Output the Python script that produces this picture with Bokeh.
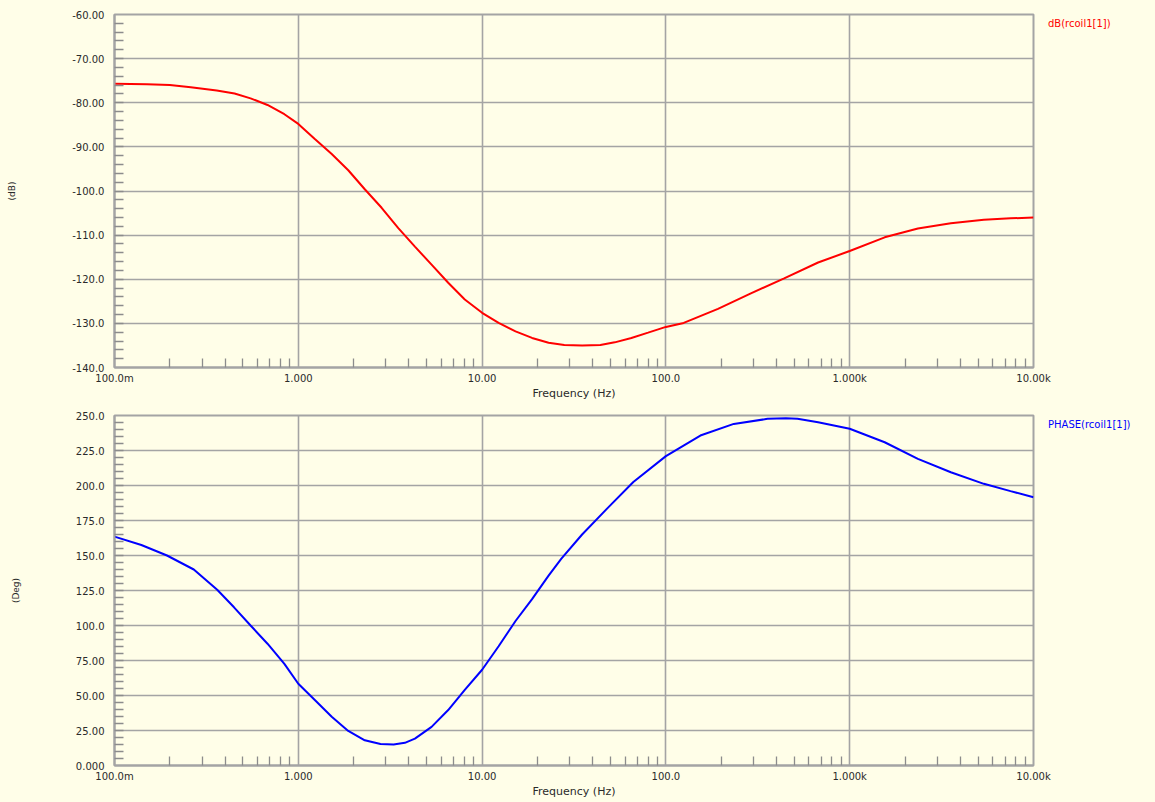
from bokeh.plotting import figure
from bokeh.layouts import column
from bokeh.models import (Range1d, FixedTicker, CustomJSTickFormatter, Legend, LegendItem)
from bokeh.embed import file_html
from bokeh.resources import INLINE

# ---- data ----
db_freq = [0.1, 0.15, 0.2, 0.26, 0.36, 0.45, 0.55, 0.68, 0.84, 1.0, 1.23, 1.52, 1.87,
           2.3, 2.84, 3.5, 4.31, 5.31, 6.54, 8.05, 10, 12.3, 15.2, 18.7, 23, 28, 35,
           44, 52.7, 64.9, 80, 100, 125, 192, 290, 440, 673, 1000, 1550, 2350, 3550,
           5370, 7500, 10000]
db_vals = [-75.7, -75.8, -76.0, -76.5, -77.2, -77.9, -79.0, -80.5, -82.6, -84.8, -88.2,
           -91.6, -95.3, -99.6, -103.8, -108.4, -112.6, -116.7, -120.8, -124.6, -127.6,
           -129.9, -131.8, -133.3, -134.4, -134.9, -135.0, -134.9, -134.3, -133.3,
           -132.1, -130.8, -129.9, -126.7, -123.2, -119.8, -116.2, -113.6, -110.5,
           -108.5, -107.3, -106.5, -106.2, -106.0]

ph_freq = [0.1, 0.14, 0.193, 0.27, 0.362, 0.447, 0.55, 0.68, 0.84, 1.0, 1.23, 1.52, 1.87,
           2.3, 2.8, 3.3, 3.8, 4.31, 5.31, 6.54, 8.05, 10, 12.3, 15.2, 18.7, 23, 27, 35,
           47.7, 66.5, 100, 154, 234, 357, 450, 520, 673, 1000, 1550, 2350, 3550, 5370,
           7500, 10000]
ph_vals = [163.5, 157.5, 150, 140.0, 125.5, 113, 100, 87, 72.6, 58.4, 46.8, 34.8, 24.7,
           18.0, 15.3, 15.0, 16.2, 19.2, 27.6, 39.6, 54, 68.4, 85.2, 103.2, 118.8, 135.6,
           147.7, 165, 183.3, 202.5, 221.0, 235.7, 244, 247.6, 248, 247.6, 245.2, 240.5,
           230.9, 219, 209.5, 201.2, 196, 191.6]

x_ticks = [0.1, 1, 10, 100, 1000, 10000]
x_labels = ["100.0m", "1.000", "10.00", "100.0", "1.000k", "10.00k"]
db_ticks = [-140, -130, -120, -110, -100, -90, -80, -70, -60]
db_labels = ["-140.0", "-130.0", "-120.0", "-110.0", "-100.0", "-90.00", "-80.00", "-70.00", "-60.00"]
ph_ticks = [0, 25, 50, 75, 100, 125, 150, 175, 200, 225, 250]
ph_labels = ["0.000", "25.00", "50.00", "75.00", "100.0", "125.0", "150.0", "175.0", "200.0", "225.0", "250.0"]
db_series = "dB(rcoil1[1])"
ph_series = "PHASE(rcoil1[1])"

BG = "#FFFEE8"
GRID = "#A4A4A4"
TXT = "#2A2A2A"
FONT = "DejaVu Sans"

x_minor = [m * 10.0 ** e for e in range(-1, 4) for m in range(2, 10)]

fmt_code = """
for (let i = 0; i < vals.length; i++) {
  if (Math.abs(vals[i] - tick) <= 1e-9 * Math.max(1, Math.abs(vals[i]))) return labs[i];
}
return "";
"""


def make_fig(height, top, bottom, y0, y1, yticks, ylabels, yminor, ylab, color, xs, ys,
             series):
    p = figure(x_axis_type="log", frame_width=919, height=height,
               min_border_left=114, min_border_right=122, min_border_top=top,
               min_border_bottom=bottom, output_backend="svg", toolbar_location=None,
               x_range=Range1d(0.1, 10000), y_range=Range1d(y0, y1))
    p.background_fill_color = BG
    p.border_fill_color = BG
    p.outline_line_color = GRID
    p.outline_line_width = 2

    p.xaxis.ticker = FixedTicker(ticks=x_ticks, minor_ticks=x_minor)
    p.xaxis.formatter = CustomJSTickFormatter(args=dict(vals=x_ticks, labs=x_labels), code=fmt_code)
    p.yaxis.ticker = FixedTicker(ticks=yticks, minor_ticks=yminor)
    p.yaxis.formatter = CustomJSTickFormatter(args=dict(vals=yticks, labs=ylabels), code=fmt_code)

    for ax in (p.xaxis[0], p.yaxis[0]):
        ax.axis_line_color = GRID
        ax.axis_line_width = 2
        ax.major_tick_in = 0
        ax.major_tick_out = 0
        ax.minor_tick_in = 9
        ax.minor_tick_out = 0
        ax.minor_tick_line_color = "#8C8C8C"
        ax.minor_tick_line_width = 1.3
        ax.major_label_text_font = FONT
        ax.major_label_text_font_size = "10px"
        ax.major_label_text_color = TXT
        ax.axis_label_text_font = FONT
        ax.axis_label_text_font_style = "normal"
        ax.axis_label_text_color = TXT

    p.xaxis.axis_label = "Frequency (Hz)"
    p.xaxis.axis_label_text_font_size = "11px"
    p.xaxis.major_label_standoff = 5
    p.xaxis.axis_label_standoff = 0

    p.yaxis.axis_label = ylab
    p.yaxis.axis_label_text_font_size = "9px"
    p.yaxis.major_label_standoff = 10
    p.yaxis.axis_label_standoff = 52

    p.xgrid.ticker = FixedTicker(ticks=x_ticks)
    p.ygrid.ticker = FixedTicker(ticks=yticks)
    for g in (p.xgrid[0], p.ygrid[0]):
        g.grid_line_color = GRID
        g.grid_line_width = 1.6
        g.grid_line_alpha = 1.0

    r = p.line(xs, ys, line_color=color, line_width=2)

    leg = Legend(items=[LegendItem(label=series, renderers=[r])], location="top_left",
                 margin=4, padding=0, spacing=0, glyph_width=0, glyph_height=10,
                 label_height=10, label_standoff=11, border_line_color=None,
                 background_fill_alpha=0, label_text_font=FONT,
                 label_text_font_size="10px", label_text_color=color)
    p.add_layout(leg, "right")
    return p


p1 = make_fig(403, 14, 36, -140, -60, db_ticks, db_labels,
              list(range(-138, -60, 2)), "(dB)", "#FF0000", db_freq, db_vals, db_series)
p2 = make_fig(399, 12, 37, 0, 250, ph_ticks, ph_labels,
              list(range(5, 250, 5)), "(Deg)", "#0000FF", ph_freq, ph_vals, ph_series)

layout = column(p1, p2, spacing=0)
layout.styles = {"background-color": BG}

open("out.html", "w").write(file_html(layout, INLINE))
